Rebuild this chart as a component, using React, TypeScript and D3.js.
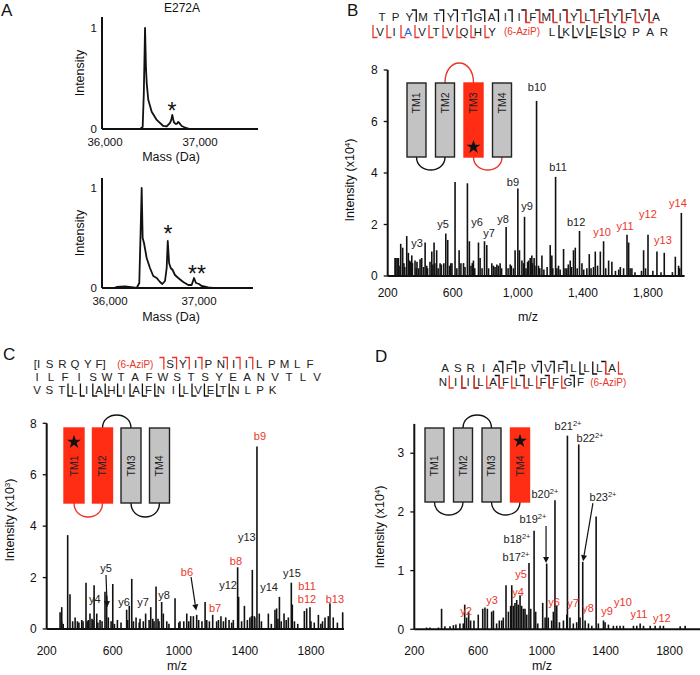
import React from 'react';
import * as d3 from 'd3';

type Peak = [number, number];
type Lab = { t: string; mz: number; i: number; xl?: boolean; sup?: string };
type Arr = { mz1: number; i1: number; mz2: number; i2: number };

const FONT = "'Liberation Sans', Arial, Helvetica, sans-serif";
const INK = '#111';
const RED = '#ec3528';
const BOXRED = '#ff2d14';
const GRAY = '#c3c3c3';
const BLUE = '#2f5bd6';

// ---------- Panel A: deconvoluted intact masses ----------
const massA1 = [35968, 36368, 36396, 36408, 36421, 36431, 36439, 36455, 36491, 36544, 36613, 36649, 36684, 36697, 36708, 36719, 36726, 36742, 36754, 36771, 36789, 36807, 36852, 36894, 37610];
const intA1 = [0, 0, 0.02, 0.35, 1.0, 0.6, 0.45, 0.29, 0.17, 0.09, 0.03, 0.025, 0.06, 0.09, 0.14, 0.09, 0.065, 0.05, 0.05, 0.07, 0.05, 0.03, 0.01, 0, 0];
const massA2 = [35910, 36040, 36075, 36168, 36262, 36300, 36329, 36345, 36356, 36367, 36382, 36412, 36449, 36486, 36525, 36562, 36588, 36618, 36637, 36649, 36664, 36682, 36704, 36730, 36767, 36823, 36880, 36918, 36944, 36966, 37000, 37030, 37104, 37157, 37607];
const intA2 = [0, 0, 0.01, 0.015, 0.005, 0, 0.05, 0.6, 1.0, 0.5, 0.45, 0.3, 0.2, 0.12, 0.1, 0.06, 0.04, 0.07, 0.2, 0.47, 0.25, 0.2, 0.18, 0.13, 0.1, 0.06, 0.03, 0.03, 0.1, 0.05, 0.04, 0.02, 0.005, 0, 0];
const massTicksA = [36000, 37000];
const starsA1 = [{ t: '*', m: 36705, i: 0.24 }];
const starsA2 = [{ t: '*', m: 36652, i: 0.6 }, { t: '**', m: 36977, i: 0.2 }];

// ---------- Panel B ----------
const peaksB: Peak[] = [[245,0.7],[266,0.7],[280,1.25],[292,1.1],[317,1.55],[327,0.9],[348,0.8],[368,0.6],[399,0.65],[409,0.7],[430,1.3],[460,0.55],[471,0.95],[485,1.3],[501,1.0],[522,0.5],[557,1.65],[569,1.4],[588,0.5],[614,3.65],[639,1.0],[666,0.5],[690,3.6],[702,1.35],[727,0.6],[758,1.3],[768,0.7],[795,1.35],[809,1.2],[840,0.5],[871,0.45],[891,0.5],[928,1.9],[953,0.45],[973,0.3],[983,1.0],[1000,3.4],[1010,1.0],[1025,0.6],[1041,2.3],[1066,0.6],[1076,0.7],[1086,0.8],[1100,0.7],[1115,6.8],[1127,0.4],[1148,0.8],[1199,1.2],[1209,0.8],[1232,3.85],[1250,0.4],[1281,1.05],[1301,0.3],[1322,0.6],[1342,1.0],[1353,1.1],[1379,1.75],[1394,0.5],[1424,0.3],[1439,0.85],[1476,0.95],[1507,0.95],[1527,1.35],[1558,0.6],[1578,0.55],[1630,0.35],[1650,0.3],[1671,1.6],[1681,1.3],[1701,0.3],[1773,1.0],[1800,1.6],[1855,0.95],[1900,0.9],[1968,0.75],[1988,0.4],[2005,2.45]];
const peaksBMinor: Peak[] = [[250,0.7],[258,0.7],[270,0.4],[300,0.5],[305,0.35],[335,0.6],[340,0.55],[352,0.5],[375,0.3],[380,0.55],[390,0.3],[420,0.35],[440,0.4],[445,0.3],[478,0.45],[490,0.5],[510,0.3],[530,0.45],[545,0.5],[580,0.4],[595,0.5],[625,0.3],[650,0.5],[675,0.35],[712,0.4],[720,0.5],[735,0.3],[780,0.3],[820,0.3],[850,0.4],[860,0.35],[880,0.4],[900,0.3],[940,0.3],[960,0.4],[1035,0.5],[1050,0.3],[1060,0.55],[1090,0.5],[1105,0.4],[1135,0.3],[1160,0.25],[1180,0.35],[1215,0.3],[1240,0.3],[1260,0.25],[1290,0.3],[1310,0.45],[1330,0.35],[1365,0.3],[1405,0.25],[1450,0.3],[1465,0.35],[1490,0.4],[1540,0.3],[1600,0.2],[1620,0.25],[1690,0.3],[1720,0.15],[1760,0.2],[1785,0.3],[1830,0.2],[1880,0.15],[1950,0.15],[1995,0.3]];
const labelsB: Lab[] = [
  { t: 'y3', mz: 380, i: 1.28 }, { t: 'y5', mz: 540, i: 2.02 }, { t: 'y6', mz: 749, i: 2.1 },
  { t: 'y7', mz: 823, i: 1.67 }, { t: 'y8', mz: 909, i: 2.21 }, { t: 'b9', mz: 970, i: 3.65 },
  { t: 'y9', mz: 1056, i: 2.72 }, { t: 'b10', mz: 1118, i: 7.34 }, { t: 'b11', mz: 1247, i: 4.23 },
  { t: 'b12', mz: 1358, i: 2.1 }, { t: 'y10', mz: 1518, i: 1.71, xl: true }, { t: 'y11', mz: 1659, i: 1.94, xl: true },
  { t: 'y12', mz: 1800, i: 2.41, xl: true }, { t: 'y13', mz: 1892, i: 1.4, xl: true }, { t: 'y14', mz: 1984, i: 2.83, xl: true },
];
const xTicksB = [200, 600, 1000, 1400, 1800];
const yTicksB = [0, 2, 4, 6, 8];

// ---------- Panel C ----------
const peaksC: Peak[] = [[281,0.65],[291,0.85],[327,3.65],[341,1.35],[357,0.3],[372,0.45],[386,0.3],[412,0.35],[438,1.8],[452,0.35],[462,0.6],[474,0.4],[487,1.7],[503,0.6],[523,0.35],[553,1.45],[563,1.3],[573,0.45],[600,1.75],[628,0.35],[684,0.75],[700,0.9],[715,1.95],[741,0.45],[765,0.4],[785,0.3],[799,0.6],[830,0.85],[842,0.4],[862,1.65],[874,0.4],[896,1.05],[906,0.6],[927,0.3],[977,1.2],[1007,0.3],[1048,0.6],[1072,0.5],[1088,0.5],[1108,0.55],[1159,1.05],[1169,0.35],[1205,0.55],[1229,0.3],[1255,0.5],[1284,0.45],[1304,0.35],[1330,0.35],[1356,2.4],[1362,1.25],[1397,0.9],[1415,0.35],[1445,2.3],[1457,0.5],[1473,7.1],[1487,0.6],[1542,0.6],[1582,0.75],[1592,0.8],[1609,1.25],[1637,0.6],[1663,0.45],[1681,1.8],[1687,0.95],[1760,0.7],[1774,0.8],[1794,0.85],[1845,0.55],[1885,0.45],[1905,0.5],[1915,1.0],[1935,0.45],[1992,0.65]];
const peaksCMinor: Peak[] = [[290,0.3],[300,0.2],[395,0.25],[420,0.3],[445,0.3],[480,0.35],[510,0.25],[535,0.3],[590,0.3],[610,0.2],[650,0.25],[690,0.35],[725,0.3],[760,0.25],[820,0.35],[850,0.3],[880,0.3],[940,0.2],[1000,0.25],[1030,0.3],[1060,0.3],[1120,0.35],[1140,0.3],[1185,0.3],[1240,0.35],[1270,0.3],[1320,0.25],[1380,0.3],[1430,0.45],[1440,0.5],[1460,0.45],[1500,0.3],[1560,0.2],[1600,0.4],[1620,0.3],[1650,0.35],[1700,0.3],[1720,0.2],[1800,0.3],[1820,0.25],[1860,0.2],[1870,0.3],[1960,0.25]];
const labelsC: Lab[] = [
  { t: 'y5', mz: 559, i: 2.37 }, { t: 'y4', mz: 492, i: 1.17 }, { t: 'y6', mz: 668, i: 1.05 },
  { t: 'y7', mz: 783, i: 1.05 }, { t: 'y8', mz: 910, i: 1.32 }, { t: 'b6', mz: 1049, i: 2.22, xl: true },
  { t: 'b7', mz: 1219, i: 0.82, xl: true }, { t: 'y12', mz: 1298, i: 1.71 }, { t: 'b8', mz: 1346, i: 2.64, xl: true },
  { t: 'y13', mz: 1412, i: 3.58 }, { t: 'b9', mz: 1491, i: 7.51, xl: true }, { t: 'y14', mz: 1546, i: 1.63 },
  { t: 'y15', mz: 1685, i: 2.18 }, { t: 'b11', mz: 1776, i: 1.67, xl: true }, { t: 'b12', mz: 1776, i: 1.17, xl: true },
  { t: 'b13', mz: 1945, i: 1.17, xl: true },
];
const arrowsC: Arr[] = [{ mz1: 559, i1: 2.1, mz2: 566, i2: 0.85 }, { mz1: 1074, i1: 2.02, mz2: 1105, i2: 0.72 }];
const xTicksCD = [200, 600, 1000, 1400, 1800];
const yTicksC = [0, 2, 4, 6, 8];

// ---------- Panel D ----------
const peaksD: Peak[] = [[277,0.03],[298,0.03],[351,0.03],[371,0.35],[392,0.05],[424,0.05],[445,0.07],[461,0.08],[486,0.1],[507,0.1],[516,0.42],[528,0.2],[541,0.3],[553,0.15],[574,0.15],[601,0.25],[629,0.35],[643,0.37],[658,0.35],[685,0.3],[696,0.32],[716,0.1],[733,0.15],[748,0.15],[758,0.2],[775,0.75],[790,0.3],[804,0.4],[811,0.75],[821,0.4],[831,0.45],[842,0.5],[852,0.42],[863,0.58],[873,0.4],[884,0.35],[894,0.35],[905,0.25],[919,1.13],[930,0.35],[951,1.68],[961,0.3],[974,0.1],[1005,0.45],[1020,0.2],[1030,1.12],[1040,0.2],[1061,0.15],[1072,0.3],[1082,2.2],[1093,0.4],[1110,0.12],[1135,0.15],[1156,0.25],[1160,3.3],[1176,0.2],[1197,0.1],[1218,0.12],[1231,3.15],[1239,0.2],[1256,1.15],[1271,0.15],[1292,0.1],[1313,0.06],[1340,1.92],[1354,0.1],[1386,0.15],[1396,0.12],[1417,0.08],[1448,0.06],[1469,0.06],[1490,0.06],[1511,0.06],[1574,0.06],[1595,0.06],[1616,0.1],[1637,0.06],[1679,0.06],[1710,0.06],[1741,0.06],[1762,0.06],[1867,0.05],[1898,0.06]];
const labelsD: Lab[] = [
  { t: 'b21', sup: '2+', mz: 1164, i: 3.46 }, { t: 'b22', sup: '2+', mz: 1302, i: 3.26 },
  { t: 'b20', sup: '2+', mz: 1019, i: 2.31 }, { t: 'b23', sup: '2+', mz: 1383, i: 2.25 },
  { t: 'b19', sup: '2+', mz: 944, i: 1.88 }, { t: 'b18', sup: '2+', mz: 844, i: 1.54 },
  { t: 'b17', sup: '2+', mz: 838, i: 1.23 },
  { t: 'y5', mz: 869, i: 0.94, xl: true }, { t: 'y4', mz: 850, i: 0.64, xl: true }, { t: 'y3', mz: 687, i: 0.5, xl: true },
  { t: 'y2', mz: 524, i: 0.31, xl: true }, { t: 'y6', mz: 1076, i: 0.47, xl: true }, { t: 'y7', mz: 1195, i: 0.45, xl: true },
  { t: 'y8', mz: 1289, i: 0.36, xl: true }, { t: 'y9', mz: 1408, i: 0.31, xl: true }, { t: 'y10', mz: 1508, i: 0.47, xl: true },
  { t: 'y11', mz: 1608, i: 0.26, xl: true }, { t: 'y12', mz: 1752, i: 0.19, xl: true },
];
const arrowsD: Arr[] = [{ mz1: 1026, i1: 1.76, mz2: 1026, i2: 1.13 }, { mz1: 1320, i1: 2.15, mz2: 1258, i2: 1.16 }];
const yTicksD = [0, 1, 2, 3];

// ---------- Sequences ('|b' black b-ion, '|y' black y-ion, '|B','|Y' red, '~' blue residue, 'AZ' = 6-AziP) ----------
const seqB1 = 'T P Y |b M T |b Y |b T |b G |b A |b I |b I |bY F |bY M |bY I |bY Y |bY L |bY F |bY Y |bY F |bY V |bY A';
const seqB2 = '|Y V |Y I |Y ~A |Y V |Y T |Y V |Y Q |Y H |Y Y AZ L |y K |y V |y E |y S |y Q P A R';
const seqC1 = '[I S R Q Y F] AZ |B S |B Y |B I |B P N |B I |B I |B L P M L F';
const seqC2 = 'I L F I S W T A F W S T S Y E A N V T L V';
const seqC3 = 'V S T |y L |y I |y A |y H |y I |y A |y F |y N I |y L |y V |y E |y T |y N L P K';
const seqD1 = 'A S R I A |b F |b P V |b V |b F |b L |y L |y L |bY A |Y';
const seqD2 = 'N |Y I |yY I |yY L |Y A |bY F |Y L |bY L |Y F |bY F |Y G |b F AZ';

function SeqRow({ tokens, x0, y, step, aziW = 46 }: { tokens: string; x0: number; y: number; step: number; aziW?: number }) {
  const els: React.ReactNode[] = [];
  let cx = x0;
  tokens.split(' ').forEach((t, k) => {
    if (t.startsWith('|')) {
      const mx = cx - step / 2;
      for (const c of t.slice(1)) {
        const col = c === c.toUpperCase() ? RED : INK;
        const d = c.toLowerCase() === 'b'
          ? `M${mx - 4.5},${y - 6.5}H${mx}V${y + 5.5}`
          : `M${mx},${y - 6.5}V${y + 6}H${mx + 4.5}`;
        els.push(<path key={k + c} d={d} fill="none" stroke={col} strokeWidth={1.3} />);
      }
    } else if (t === 'AZ') {
      els.push(<text key={k} x={cx - step / 2 + aziW / 2} y={y} dy="0.35em" textAnchor="middle" fontSize={10} fill={RED}>(6-AziP)</text>);
      cx += aziW;
    } else {
      const blue = t.startsWith('~');
      els.push(<text key={k} x={cx} y={y} dy="0.35em" textAnchor="middle" fontSize={11.5} fill={blue ? BLUE : '#222'}>{blue ? t.slice(1) : t}</text>);
      cx += step;
    }
  });
  return <g>{els}</g>;
}

function MassPanel({ mass, inten, xr, yBase, yOne, axisTop, domain, stars, tickY, titleY }: any) {
  const x = d3.scaleLinear().domain(domain).range(xr);
  const y = d3.scaleLinear().domain([0, 1]).range([yBase, yOne]);
  const line = d3.line<number>().x((_, i) => x(mass[i])).y(d => y(d));
  return (
    <g>
      <path d={line(inten) || ''} fill="none" stroke={INK} strokeWidth={1.8} strokeLinejoin="round" />
      <line x1={xr[0]} x2={xr[0]} y1={axisTop} y2={yBase} stroke={INK} strokeWidth={2} />
      <line x1={xr[0]} x2={xr[1]} y1={yBase} y2={yBase} stroke={INK} strokeWidth={2} />
      {[0, 1].map(v => <text key={v} x={xr[0] - 5} y={y(v)} dy="0.35em" textAnchor="end" fontSize={11.5}>{v}</text>)}
      {massTicksA.map(v => <text key={v} x={x(v)} y={tickY} dy="0.35em" textAnchor="middle" fontSize={11.5}>{d3.format(',')(v)}</text>)}
      <text transform={`translate(80,${(axisTop + yBase) / 2}) rotate(-90)`} textAnchor="middle" dy="0.35em" fontSize={12.5}>Intensity</text>
      <text x={171} y={titleY} dy="0.35em" textAnchor="middle" fontSize={12.5}>Mass (Da)</text>
      {stars.map((s: any, k: number) => <text key={k} x={x(s.m)} y={y(s.i)} dy="0.6em" textAnchor="middle" fontSize={23}>{s.t}</text>)}
    </g>
  );
}

function Inset({ left, top, bottom, w, gap, reds, loops, starIdx, starTop, labelY }: any) {
  const cxs = [0, 1, 2, 3].map(i => left + i * gap + w / 2);
  return (
    <g>
      {loops.map((l: any, k: number) => {
        const a = cxs[l.from], b = cxs[l.from + 1];
        const yy = l.up ? top : bottom;
        const d = l.up ? -l.depth : l.depth;
        return <path key={k} d={`M${a},${yy}C${a},${yy + d * 1.33} ${b},${yy + d * 1.33} ${b},${yy}`} fill="none" stroke={l.red ? RED : INK} strokeWidth={1.4} />;
      })}
      {cxs.map((c, i) => {
        const red = reds.includes(i);
        return (
          <g key={i}>
            <rect x={c - w / 2} y={top} width={w} height={bottom - top} fill={red ? BOXRED : GRAY} stroke={red ? BOXRED : '#222'} strokeWidth={1.4} />
            <text transform={`translate(${c},${labelY}) rotate(-90)`} textAnchor="middle" dy="0.35em" fontSize={10.5} fill="#222">{`TM${i + 1}`}</text>
          </g>
        );
      })}
      <path d={d3.symbol().type(d3.symbolStar).size(60)() || ''} transform={`translate(${cxs[starIdx]},${starTop})`} fill={INK} />
    </g>
  );
}

function Spectrum(p: any) {
  const x = d3.scaleLinear().domain(p.xDomain).range([p.x0, p.x1]);
  const y = d3.scaleLinear().domain([0, p.yMax]).range([p.yBase, p.yTop]);
  const all: Peak[] = [...p.minor, ...p.peaks];
  const arrowHead = (a: Arr) => {
    const x1 = x(a.mz1), y1 = y(a.i1), x2 = x(a.mz2), y2 = y(a.i2);
    const ang = Math.atan2(y2 - y1, x2 - x1);
    const L = 6, W = 3;
    const bx = x2 - L * Math.cos(ang), by = y2 - L * Math.sin(ang);
    const px = -Math.sin(ang) * W, py = Math.cos(ang) * W;
    return (
      <g>
        <line x1={x1} y1={y1} x2={bx} y2={by} stroke={INK} strokeWidth={1.2} />
        <path d={`M${x2},${y2}L${bx + px},${by + py}L${bx - px},${by - py}Z`} fill={INK} />
      </g>
    );
  };
  return (
    <g>
      {all.map((pk, k) => <line key={k} x1={x(pk[0])} x2={x(pk[0])} y1={p.yBase} y2={y(pk[1])} stroke={INK} strokeWidth={1.6} />)}
      <line x1={p.x0} x2={p.x0} y1={p.yTop} y2={p.yBase} stroke={INK} strokeWidth={2} />
      <line x1={p.x0} x2={p.x1} y1={p.yBase} y2={p.yBase} stroke={INK} strokeWidth={2} />
      {p.yTicks.map((v: number) => (
        <g key={v}>
          <line x1={p.x0 - 4} x2={p.x0} y1={y(v)} y2={y(v)} stroke={INK} strokeWidth={1.3} />
          <text x={p.x0 - p.tickGap} y={y(v)} dy="0.35em" textAnchor="end" fontSize={p.fsTick}>{v}</text>
        </g>
      ))}
      {p.xTicks.map((v: number) => <text key={v} x={x(v)} y={p.tickY} dy="0.35em" textAnchor="middle" fontSize={p.fsTick}>{p.xFmt(v)}</text>)}
      <text x={p.titleX} y={p.titleY} dy="0.35em" textAnchor="middle" fontSize={12.5}>m/z</text>
      <text transform={`translate(${p.ylabX},${p.ylabY}) rotate(-90)`} textAnchor="middle" dy="0.35em" fontSize={12.5}>
        Intensity (x10<tspan dy={-4} fontSize={8}>{p.exp}</tspan><tspan dy={4}>)</tspan>
      </text>
      {p.labels.map((l: Lab, k: number) => (
        <text key={k} x={x(l.mz)} y={y(l.i)} dy="0.35em" textAnchor="middle" fontSize={11} fill={l.xl ? RED : '#222'}>
          {l.t}{l.sup ? <tspan dy={-4} fontSize={7.5}>{l.sup}</tspan> : null}
        </text>
      ))}
      {(p.arrows || []).map((a: Arr, k: number) => <g key={k}>{arrowHead(a)}</g>)}
    </g>
  );
}

export default function App() {
  const fmtComma = d3.format(',');
  const fmtPlain = (v: number) => String(v);
  return (
    <svg width={700} height={675} style={{ position: 'absolute', left: 0, top: 0, background: '#fff' }} fontFamily={FONT} fill={INK}>
      <rect width={700} height={675} fill="#fff" />
      {/* panel letters */}
      <text x={1} y={16} fontSize={17}>A</text>
      <text x={347} y={16} fontSize={17}>B</text>
      <text x={3} y={360} fontSize={17}>C</text>
      <text x={375} y={362} fontSize={17}>D</text>

      {/* A */}
      <text x={182} y={12} textAnchor="middle" fontSize={12}>E272A</text>
      <MassPanel mass={massA1} inten={intA1} xr={[102, 258]} yBase={129} yOne={28} axisTop={17} domain={[35968, 37610]} stars={starsA1} tickY={142} titleY={157} />
      <MassPanel mass={massA2} inten={intA2} xr={[102, 253]} yBase={288} yOne={188} axisTop={178} domain={[35910, 37607]} stars={starsA2} tickY={301} titleY={317} />

      {/* B */}
      <SeqRow tokens={seqB1} x0={382} y={16.5} step={13.7} />
      <SeqRow tokens={seqB2} x0={380} y={31.5} step={14} aziW={46} />
      <Inset left={407} top={83} bottom={157} w={19} gap={28.5} reds={[2]} starIdx={2} starTop={147} labelY={103}
        loops={[{ from: 0, up: false, depth: 13, red: false }, { from: 1, up: true, depth: 20, red: true }, { from: 2, up: false, depth: 13, red: true }]} />
      <Spectrum x0={387.7} x1={684.6} xDomain={[200, 2025]} yBase={276} yTop={70} yMax={8}
        peaks={peaksB} minor={peaksBMinor} yTicks={yTicksB} xTicks={xTicksB} xFmt={fmtComma}
        tickGap={10} fsTick={12} tickY={293} titleX={528} titleY={317} ylabX={350} ylabY={180} exp="4" labels={labelsB} />

      {/* C */}
      <SeqRow tokens={seqC1} x0={37} y={364} step={12.7} aziW={57} />
      <SeqRow tokens={seqC2} x0={37} y={377} step={14} />
      <SeqRow tokens={seqC3} x0={37} y={390} step={12.4} />
      <Inset left={64} top={428} bottom={503} w={20} gap={28.5} reds={[0, 1]} starIdx={0} starTop={442} labelY={466}
        loops={[{ from: 0, up: false, depth: 14, red: true }, { from: 1, up: true, depth: 13, red: false }, { from: 2, up: false, depth: 14, red: false }]} />
      <Spectrum x0={46.7} x1={344} xDomain={[200, 2000]} yBase={629} yTop={423.3} yMax={8}
        peaks={peaksC} minor={peaksCMinor} yTicks={yTicksC} xTicks={xTicksCD} xFmt={fmtPlain}
        tickGap={10} fsTick={12} tickY={651} titleX={177} titleY={666} ylabX={10} ylabY={520} exp="3" labels={labelsC} arrows={arrowsC} />

      {/* D */}
      <SeqRow tokens={seqD1} x0={445} y={368} step={12.85} />
      <SeqRow tokens={seqD2} x0={443} y={382} step={12.5} aziW={43} />
      <Inset left={425} top={428} bottom={502} w={19} gap={28.5} reds={[3]} starIdx={3} starTop={441} labelY={466}
        loops={[{ from: 0, up: false, depth: 13, red: false }, { from: 1, up: true, depth: 13, red: false }, { from: 2, up: false, depth: 13, red: false }]} />
      <Spectrum x0={414.3} x1={701.4} xDomain={[200, 2000]} yBase={629.3} yTop={423.9} yMax={3.5}
        peaks={peaksD} minor={[]} yTicks={yTicksD} xTicks={xTicksCD} xFmt={fmtPlain}
        tickGap={10} fsTick={12} tickY={651} titleX={542} titleY={666} ylabX={380} ylabY={527} exp="4" labels={labelsD} arrows={arrowsD} />
    </svg>
  );
}
